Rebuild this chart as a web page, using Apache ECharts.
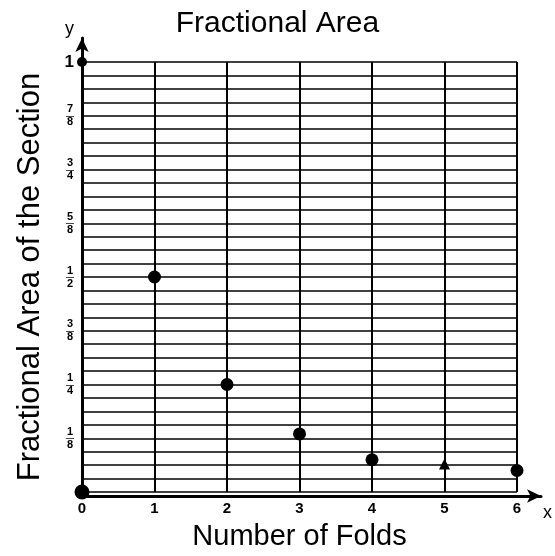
<!DOCTYPE html>
<html>
<head>
<meta charset="utf-8">
<script src="https://cdn.jsdelivr.net/npm/echarts@6/dist/echarts.min.js"></script>
<style>
html, body { margin: 0; padding: 0; background: #fff; }
#main { width: 555px; height: 556px; }
</style>
</head>
<body>
<div id="main"></div>
<script>
// folds and fractional area
var folds = [0, 0, 1, 2, 3, 4, 5, 6];
var areas = [0, 1, 0.5, 0.25, 0.135, 0.075, 0.065, 0.05];
// y labels at every eighth
var yNumerators = ['', '1', '1', '3', '1', '5', '3', '7', '1'];
var yDenominators = ['', '8', '4', '8', '2', '8', '4', '8', ''];
var xTicks = ['0', '1', '2', '3', '4', '5', '6'];

var FONT = '"Liberation Sans", Arial, sans-serif';

function yLabel(v) {
    var k = Math.round(v * 32);
    if (k % 4 != 0) return '';
    var e = k / 4;
    if (e == 8) return '{one|1}';
    if (!yNumerators[e]) return '';
    return '{n|' + yNumerators[e] + '}\n{b|—}\n{d|' + yDenominators[e] + '}';
}

var points = [];
for (var i = 0; i < folds.length; i++) {
    var p = { value: [folds[i], areas[i]] };
    if (folds[i] == 5) { p.symbol = 'triangle'; p.symbolSize = 11; }
    if (folds[i] == 0 && areas[i] == 1) { p.symbolSize = 10; }
    if (folds[i] == 0 && areas[i] == 0) { p.symbolSize = 15; }
    points.push(p);
}

var chart = echarts.init(document.getElementById('main'));
chart.setOption({
    animation: false,
    backgroundColor: '#fff',
    title: {
        text: 'Fractional Area',
        left: 'center',
        top: 4,
        textStyle: { fontFamily: FONT, fontSize: 30, fontWeight: 'normal', color: '#000' }
    },
    grid: [
        { left: 82, right: 38, top: 62, bottom: 60 },
        { left: 82, right: 10, top: 38, bottom: 60 }
    ],
    xAxis: [{
        gridIndex: 0, type: 'value', min: 0, max: 6, interval: 1,
        name: 'Number of Folds', nameLocation: 'middle', nameGap: 30,
        nameTextStyle: { fontFamily: FONT, fontSize: 29, color: '#000' },
        axisLine: { show: false },
        axisTick: { show: false },
        axisLabel: {
            margin: 9, color: '#000', fontFamily: FONT, fontSize: 15, fontWeight: 'bold',
            formatter: function (v) { return xTicks[Math.round(v)] || ''; }
        },
        splitLine: { show: true, lineStyle: { color: '#000', width: 2 } }
    }, {
        gridIndex: 1, type: 'value', min: 0, max: 6.4,
        name: 'x', nameGap: 2,
        nameTextStyle: { fontFamily: FONT, fontSize: 18, color: '#000', verticalAlign: 'top', padding: [8, 0, 0, 0] },
        axisLine: { show: true, symbol: ['none', 'arrow'], symbolSize: [10, 14], lineStyle: { color: '#000', width: 3 } },
        axisTick: { show: false }, axisLabel: { show: false }, splitLine: { show: false }
    }],
    yAxis: [{
        gridIndex: 0, type: 'value', min: 0, max: 1, interval: 1 / 32,
        name: 'Fractional Area of the Section', nameLocation: 'middle', nameGap: 36,
        nameTextStyle: { fontFamily: FONT, fontSize: 31, color: '#000' },
        axisLine: { show: false },
        axisTick: { show: false },
        axisLabel: {
            margin: 8, color: '#000', fontFamily: FONT, fontWeight: 'bold',
            formatter: yLabel,
            rich: {
                one: { fontSize: 17, fontWeight: 'bold', fontFamily: FONT },
                n: { fontSize: 11, fontWeight: 'bold', lineHeight: 10, align: 'center', fontFamily: FONT },
                b: { fontSize: 8, lineHeight: 3, align: 'center', fontFamily: FONT },
                d: { fontSize: 11, fontWeight: 'bold', lineHeight: 10, align: 'center', fontFamily: FONT }
            }
        },
        splitLine: { show: true, lineStyle: { color: '#000', width: 1.6 } }
    }, {
        gridIndex: 1, type: 'value', min: 0, max: 1.055,
        name: 'y', nameGap: 0,
        nameTextStyle: { fontFamily: FONT, fontSize: 18, color: '#000', align: 'right', padding: [0, 8, 0, 0] },
        axisLine: { show: true, symbol: ['none', 'arrow'], symbolSize: [10, 14], lineStyle: { color: '#000', width: 3 } },
        axisTick: { show: false }, axisLabel: { show: false }, splitLine: { show: false }
    }],
    series: [{
        type: 'scatter',
        xAxisIndex: 0, yAxisIndex: 0,
        symbolSize: 13,
        itemStyle: { color: '#000', opacity: 1 },
        data: points,
        z: 5
    }]
});
</script>
</body>
</html>
